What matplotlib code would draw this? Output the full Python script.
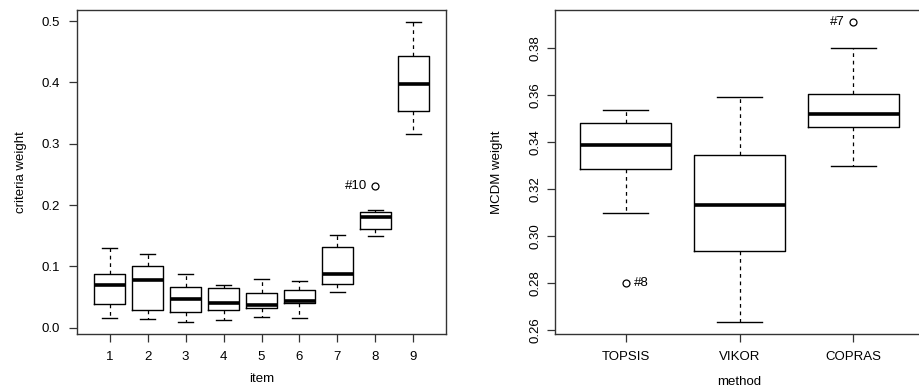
import numpy as np
import matplotlib
matplotlib.use("Agg")
import matplotlib.pyplot as plt

plt.rcParams['font.family'] = ['Liberation Sans', 'DejaVu Sans']
plt.rcParams['font.size'] = 9.5

# left panel: criteria weights per item (box stats)
items = ['1', '2', '3', '4', '5', '6', '7', '8', '9']
crit_low = [0.0152, 0.0141, 0.0092, 0.0130, 0.0179, 0.0152, 0.0576, 0.1500, 0.3160]
crit_q1 = [0.0380, 0.0283, 0.0261, 0.0283, 0.0315, 0.0397, 0.0712, 0.1609, 0.3530]
crit_med = [0.0696, 0.0777, 0.0473, 0.0408, 0.0375, 0.0440, 0.0880, 0.1810, 0.3980]
crit_q3 = [0.0880, 0.1010, 0.0658, 0.0652, 0.0571, 0.0620, 0.1315, 0.1880, 0.4435]
crit_high = [0.1300, 0.1200, 0.0880, 0.0701, 0.0788, 0.0761, 0.1516, 0.1913, 0.4984]
crit_out = [[], [], [], [], [], [], [], [0.231], []]
crit_out_lab = [[], [], [], [], [], [], [], ['#10'], []]

# right panel: MCDM weights per method
methods = ['TOPSIS', 'VIKOR', 'COPRAS']
mcdm_low = [0.3100, 0.2633, 0.3297]
mcdm_q1 = [0.3287, 0.2934, 0.3464]
mcdm_med = [0.3388, 0.3133, 0.3519]
mcdm_q3 = [0.3482, 0.3345, 0.3607]
mcdm_high = [0.3538, 0.3594, 0.3800]
mcdm_out = [[0.2799], [], [0.3912]]
mcdm_out_lab = [['#8'], [], ['#7']]


def make_stats(low, q1, med, q3, high, out):
    stats = []
    for i in range(len(med)):
        stats.append(dict(whislo=low[i], q1=q1[i], med=med[i], q3=q3[i],
                          whishi=high[i], fliers=out[i]))
    return stats


def rbox(ax, stats, labels, out_lab, label_side):
    n = len(stats)
    pos = np.arange(1, n + 1)
    ax.bxp(stats, positions=pos, widths=0.8, capwidths=0.4, showfliers=True,
           boxprops=dict(color='black', linewidth=1.0),
           medianprops=dict(color='black', linewidth=2.6, solid_capstyle='butt'),
           whiskerprops=dict(color='black', linewidth=0.9, linestyle=(0, (3, 3))),
           capprops=dict(color='black', linewidth=1.0),
           flierprops=dict(marker='o', markersize=5, markerfacecolor='none',
                           markeredgecolor='black', markeredgewidth=0.9))
    for i in range(n):
        for v, lab in zip(stats[i]['fliers'], out_lab[i]):
            side = label_side.get(lab, 'left')
            dx = -6 if side == 'left' else 6
            ax.annotate(lab, (pos[i], v), xytext=(dx, 0), textcoords='offset points',
                        ha='right' if side == 'left' else 'left', va='center')
    ax.set_xticks(pos)
    ax.set_xticklabels(labels)
    ax.set_xlim(0.5 - 0.04 * n, n + 0.5 + 0.04 * n)
    for s in ax.spines.values():
        s.set_color('#333333')
        s.set_linewidth(1.0)
    ax.tick_params(direction='out', length=6, width=0.9, color='#333333', pad=6)


fig = plt.figure(figsize=(9.19, 3.89), dpi=100)

ax1 = fig.add_axes([77 / 919, 55 / 389, 369 / 919, 324 / 389])
rbox(ax1, make_stats(crit_low, crit_q1, crit_med, crit_q3, crit_high, crit_out),
     items, crit_out_lab, {'#10': 'left'})
ax1.set_ylim(-0.0103, 0.518)
ax1.set_yticks([0.0, 0.1, 0.2, 0.3, 0.4, 0.5])
ax1.set_yticklabels(['0.0', '0.1', '0.2', '0.3', '0.4', '0.5'])
ax1.set_xlabel('item')
ax1.set_ylabel('criteria weight', va='center')
ax1.xaxis.set_label_coords(0.5, -0.139)
ax1.yaxis.set_label_coords(-0.152, 0.5)
ax1.xaxis.label.set_va('center')

ax2 = fig.add_axes([555 / 919, 55 / 389, 369 / 919, 324 / 389])
rbox(ax2, make_stats(mcdm_low, mcdm_q1, mcdm_med, mcdm_q3, mcdm_high, mcdm_out),
     methods, mcdm_out_lab, {'#8': 'right', '#7': 'left'})
ax2.set_ylim(0.2582, 0.3964)
ax2.set_yticks([0.26, 0.28, 0.30, 0.32, 0.34, 0.36, 0.38])
ax2.set_yticklabels(['0.26', '0.28', '0.30', '0.32', '0.34', '0.36', '0.38'],
                    rotation=90, va='center')
ax2.tick_params(axis='y', pad=4)
ax2.set_xlabel('method')
ax2.set_ylabel('MCDM weight', va='center')
ax2.xaxis.set_label_coords(0.5, -0.148)
ax2.yaxis.set_label_coords(-0.157, 0.5)
ax2.xaxis.label.set_va('center')

fig.savefig('out.png', dpi=100)
